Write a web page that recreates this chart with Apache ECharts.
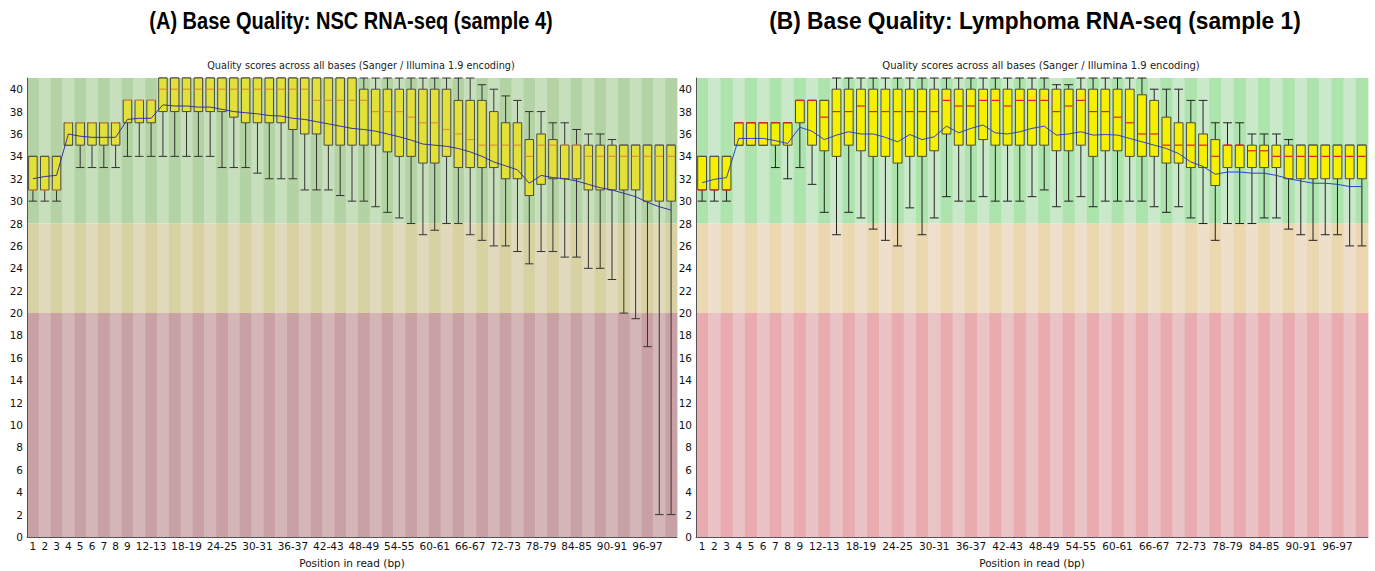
<!DOCTYPE html>
<html><head><meta charset="utf-8">
<script src="https://cdn.jsdelivr.net/npm/echarts@6/dist/echarts.min.js"></script>
<style>html,body{margin:0;padding:0;background:#fff}#c{width:1375px;height:571px}</style>
</head><body><div id="c"></div><script>
// ---- categories (base positions) ----
const categories = ['1','2','3','4','5','6','7','8','9','10-11','12-13','14-15','16-17','18-19','20-21','22-23','24-25','26-27','28-29','30-31','32-33','34-35','36-37','38-39','40-41','42-43','44-45','46-47','48-49','50-51','52-53','54-55','56-57','58-59','60-61','62-63','64-65','66-67','68-69','70-71','72-73','74-75','76-77','78-79','80-81','82-83','84-85','86-87','88-89','90-91','92-93','94-95','96-97','98-99','100-101'];

// ---- quality band thresholds ----
const bandEdges = [0, 20, 28, 41];
const yTicks = [0,2,4,6,8,10,12,14,16,18,20,22,24,26,28,30,32,34,36,38,40];

// ---- Panel A: NSC RNA-seq (sample 4) ----
const aLow  = [30,30,30,35,33,33,33,33,34,34,34,34,34,34,34,34,33,33,33,32.5,32,32,32,31,31,31,30.5,30,30,29.5,29,28.5,28,27,27.4,28,28,27,26.5,26,26,25.5,24.4,25.5,25.5,25,25,24,24,23,20,19.5,17,2,2];
const aQ1   = [31,31,31,35,35,35,35,35,37,37,37,38,38,38,38,38,38,37.5,37,37,37,37,36.4,36,36,35,35,35,35,35,34.4,34,34,33.4,33.4,34,33,33,33,33,32,32,30.5,31.5,32,32,32,31,31,31,31,31,30,30,30];
const aMed  = [31,31,31,37,37,37,37,37,39,39,39,40,40,40,40,40,40,40,40,40,40,40,40,40,39,39,39,39,39,38,38,38,37.5,37,37,36.4,36,35.5,35,35,35,35,34,35,35,35,35,34,34,34,34,34,34,34,34];
const aQ3   = [34,34,34,37,37,37,37,37,39,39,39,41,41,41,41,41,41,41,41,41,41,41,41,41,41,41,41,41,40,40,40,40,40,40,40,40,39,39,39,38,37,37,35.5,36,35.5,35,35,35,35,35,35,35,35,35,35];
const aHigh = [34,34,34,37,37,37,37,37,39,39,39,41,41,41,41,41,41,41,41,41,41,41,41,41,41,41,41,41,41,41,41,41,41,41,41,41,41,41,40.4,40,39.4,39,38,38,37,37,36.4,36,36,35.5,35,35,35,35,35];
const aMean = [32.0,32.2,32.3,36.0,35.8,35.7,35.7,35.7,37.3,37.4,37.4,38.6,38.5,38.5,38.4,38.4,38.2,38.0,37.9,37.8,37.65,37.6,37.4,37.3,37.1,36.9,36.7,36.5,36.4,36.25,36.0,35.75,35.45,35.1,35.0,34.9,34.7,34.4,34.0,33.5,33.15,32.8,31.6,32.3,32.1,32.0,31.8,31.5,31.2,31.0,30.7,30.4,29.9,29.5,29.2];

// ---- Panel B: Lymphoma RNA-seq (sample 1) ----
const bLow  = [30,30,30,35,35,35,33,32,33,31.5,29,27,29,28.5,27.5,26.5,26,29.4,27,28.5,30.4,30,30,30.4,30,30,30,30.4,31,29.5,30,30.4,29.5,30,30,30,30,29.5,29,29.5,28.5,28,26.5,28,28,28,28.5,28.5,27.5,27,26.5,27,27,26,26];
const bQ1   = [31,31,31,35,35,35,35,35,37,35,34.5,34,35,34.5,34,34,33.4,34,34,34.5,36,35,35,35.5,35,35,35,35,35,34.5,34.5,35,34,34.5,34.5,34,34,34,33.4,33.4,33,33,31.4,33,33,33,33,33,32,32,32,32,32,32,32];
const bMed  = [31,31,31,37,37,37,37,37,39,39,37.5,38,38,38.5,38,38,38,38,38,38,39,38.5,38.5,39,39,38.5,39,39,39,38,38.5,39,38,38,37.5,37,36,36,35,35,35,35,34,35,35,34.5,34.5,34,34,34,34,34,34,34,34];
const bQ3   = [34,34,34,37,37,37,37,37,39,39,39,40,40,40,40,40,40,40,40,40,40,40,40,40,40,40,40,40,40,40,40,40,40,40,40,40,39.5,39,37.5,37,37,36,35.5,35,35,35,35,35,35,35,35,35,35,35,35];
const bHigh = [34,34,34,37,37,37,37,37,39,39,39,41,41,41,41,41,41,41,41,41,41,41,41,41,41,41,41,41,41,40.4,40.4,41,41,41,41,41,41,40,40,40,39,39,37,37,37,36,36,36,35.5,35,35,35,35,35,35];
const bMean = [31.65,31.95,32.1,35.6,35.6,35.6,35.4,35.15,36.6,36.25,35.5,35.9,36.2,36.0,36.0,35.7,35.3,35.95,35.5,35.75,36.7,36.1,36.5,36.8,36.1,36.0,36.2,36.5,36.7,35.9,36.0,36.2,35.9,35.95,35.9,35.6,35.3,35.0,34.7,34.25,33.5,33.1,32.4,32.6,32.6,32.5,32.5,32.3,32.0,31.8,31.6,31.6,31.5,31.3,31.3];

const titleA = '(A) Base Quality: NSC RNA-seq (sample 4)';
const titleB = '(B) Base Quality: Lymphoma RNA-seq (sample 1)';
const subTitle = 'Quality scores across all bases (Sanger / Illumina 1.9 encoding)';
const xName = 'Position in read (bp)';

const styleA = {
  bands: [['#c9a0a3','#d4b6b9'], ['#d8d1a2','#e0d9bb'], ['#b3d3a5','#c8dfbe']],
  boxFill: '#e4e03a', boxStroke: '#4a4a40', median: '#e0903a', mean: '#34349c', whisker: '#333'
};
const styleB = {
  bands: [['#e9abb0','#e9c3c6'], ['#ebd7b0','#eddfca'], ['#ade3ad','#cae9ca']],
  boxFill: '#f4f000', boxStroke: '#4a4a40', median: '#e42020', mean: '#2a44c8', whisker: '#222'
};

function bgRender(st) {
  return function (params, api) {
    const i = api.value(0);
    const w = api.size([1, 0])[0];
    const children = [];
    for (let b = 0; b < bandEdges.length - 1; b++) {
      const top = api.coord([i, bandEdges[b + 1]]);
      const bot = api.coord([i, bandEdges[b]]);
      children.push({ type: 'rect', shape: { x: top[0] - w / 2, y: top[1], width: w + 0.4, height: bot[1] - top[1] },
        style: { fill: st.bands[b][i % 2] } });
    }
    return { type: 'group', children };
  };
}

function boxRender(st) {
  return function (params, api) {
    const i = api.value(0);
    const w = api.size([1, 0])[0];
    const bw = w * 0.72;
    const pLow = api.coord([i, api.value(1)]);
    const pQ1 = api.coord([i, api.value(2)]);
    const pMed = api.coord([i, api.value(3)]);
    const pQ3 = api.coord([i, api.value(4)]);
    const pHigh = api.coord([i, api.value(5)]);
    const x = pMed[0];
    const ls = { stroke: st.whisker, lineWidth: 1 };
    const children = [
      { type: 'line', shape: { x1: x, y1: pLow[1], x2: x, y2: pQ1[1] }, style: ls },
      { type: 'line', shape: { x1: x - bw / 2, y1: pLow[1], x2: x + bw / 2, y2: pLow[1] }, style: ls },
      { type: 'line', shape: { x1: x, y1: pHigh[1], x2: x, y2: pQ3[1] }, style: ls },
      { type: 'line', shape: { x1: x - bw / 2, y1: pHigh[1], x2: x + bw / 2, y2: pHigh[1] }, style: ls },
      { type: 'rect', shape: { x: x - bw / 2, y: pQ3[1], width: bw, height: pQ1[1] - pQ3[1] },
        style: { fill: st.boxFill, stroke: st.boxStroke, lineWidth: 1 } },
      { type: 'line', shape: { x1: x - bw / 2 + 0.5, y1: pMed[1], x2: x + bw / 2 - 0.5, y2: pMed[1] },
        style: { stroke: st.median, lineWidth: 1.2 } }
    ];
    return { type: 'group', children };
  };
}

const chart = echarts.init(document.getElementById('c'), null, { renderer: 'svg' });

function xAxisFor(gi) {
  return {
    type: 'category', gridIndex: gi, data: categories, boundaryGap: true,
    axisTick: { show: false },
    axisLine: { lineStyle: { color: '#555', width: 1 } },
    axisLabel: {
      interval: function (idx) { return idx < 9 || (idx >= 10 && (idx - 10) % 3 === 0); },
      fontFamily: 'DejaVu Sans', fontSize: 10.5, color: '#111', margin: 3
    },
    name: xName, nameLocation: 'middle', nameGap: 20,
    nameTextStyle: { fontFamily: 'DejaVu Sans', fontSize: 10.5, color: '#111' },
    z: 10
  };
}
function yAxisFor(gi) {
  return {
    type: 'value', gridIndex: gi, min: 0, max: 41, interval: 2,
    axisTick: { show: false }, splitLine: { show: false },
    axisLine: { show: true, lineStyle: { color: '#555', width: 1 } },
    axisLabel: {
      formatter: function (v) { return yTicks.indexOf(v) >= 0 ? String(v) : ''; },
      fontFamily: 'DejaVu Sans', fontSize: 10.5, color: '#111', margin: 4
    },
    z: 10
  };
}

const idxData = categories.map((c, i) => [i, 0]);
function boxData(lo, q1, md, q3, hi) { return categories.map((c, i) => [i, lo[i], q1[i], md[i], q3[i], hi[i]]); }

chart.setOption({
  animation: false,
  backgroundColor: '#ffffff',
  grid: [
    { left: 27, right: 698, top: 78, bottom: 34, containLabel: false, outerBoundsMode: 'none' },
    { left: 696, right: 7, top: 78, bottom: 34, containLabel: false, outerBoundsMode: 'none' }
  ],
  xAxis: [xAxisFor(0), xAxisFor(1)],
  yAxis: [yAxisFor(0), yAxisFor(1)],
  graphic: [
    { type: 'text', x: 351, y: 21, scaleX: 0.87, style: { text: titleA, textAlign: 'center', textVerticalAlign: 'middle', font: 'bold 23px "Liberation Sans", Arial, sans-serif', fill: '#000' } },
    { type: 'text', x: 1035, y: 21, scaleX: 0.99, style: { text: titleB, textAlign: 'center', textVerticalAlign: 'middle', font: 'bold 23px "Liberation Sans", Arial, sans-serif', fill: '#000' } },
    { type: 'text', x: 361, y: 65, style: { text: subTitle, textAlign: 'center', textVerticalAlign: 'middle', font: '9.7px "DejaVu Sans", sans-serif', fill: '#222' } },
    { type: 'text', x: 1041, y: 65, style: { text: subTitle, textAlign: 'center', textVerticalAlign: 'middle', font: '10px "DejaVu Sans", sans-serif', fill: '#222' } }
  ],
  series: [
    { type: 'custom', name: 'bgA', xAxisIndex: 0, yAxisIndex: 0, data: idxData, renderItem: bgRender(styleA), encode: { x: 0, y: 1 }, silent: true, z: 1 },
    { type: 'custom', name: 'bgB', xAxisIndex: 1, yAxisIndex: 1, data: idxData, renderItem: bgRender(styleB), encode: { x: 0, y: 1 }, silent: true, z: 1 },
    { type: 'custom', name: 'boxA', xAxisIndex: 0, yAxisIndex: 0, data: boxData(aLow, aQ1, aMed, aQ3, aHigh), renderItem: boxRender(styleA), encode: { x: 0, y: [1, 2, 3, 4, 5] }, silent: true, z: 2 },
    { type: 'custom', name: 'boxB', xAxisIndex: 1, yAxisIndex: 1, data: boxData(bLow, bQ1, bMed, bQ3, bHigh), renderItem: boxRender(styleB), encode: { x: 0, y: [1, 2, 3, 4, 5] }, silent: true, z: 2 },
    { type: 'line', name: 'meanA', xAxisIndex: 0, yAxisIndex: 0, data: aMean, symbol: 'none', lineStyle: { color: styleA.mean, width: 1 }, silent: true, z: 3 },
    { type: 'line', name: 'meanB', xAxisIndex: 1, yAxisIndex: 1, data: bMean, symbol: 'none', lineStyle: { color: styleB.mean, width: 1 }, silent: true, z: 3 }
  ]
});
</script></body></html>
